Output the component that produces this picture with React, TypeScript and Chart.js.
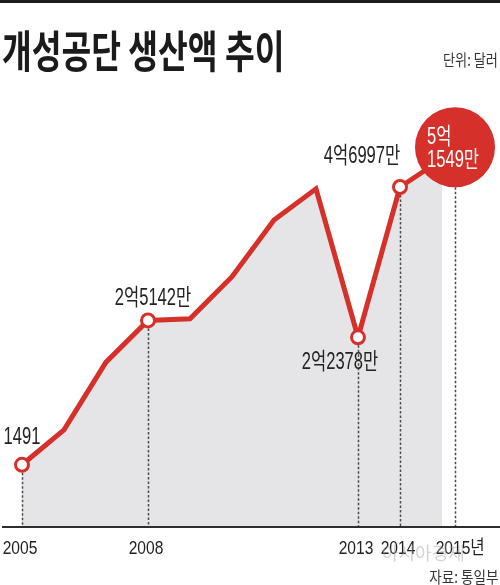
import React, { useEffect, useRef } from 'react';
import { Chart, registerables } from 'chart.js';

Chart.register(...registerables);

// ---- data ----
const years = [2005, 2006, 2007, 2008, 2009, 2010, 2011, 2012, 2013, 2014, 2015];
// 생산액 (만 달러)
const values = [1491, 7200, 18300, 25142, 25400, 32300, 41600, 46700, 22378, 46997, 51549];
const pointLabels = ['1491', '', '', '2억5142만', '', '', '', '', '2억2378만', '4억6997만', '5억\n1549만'];
const tickYears = [2005, 2008, 2013, 2014, 2015];
const tickLabels = ['2005', '2008', '2013', '2014', '2015년'];

// ---- styles ----
const RED = '#d6302a';
const AREA = '#e5e5e7';
const TEXT = '#222222';
const NUM_FONT = '"Liberation Sans", "Noto Sans CJK KR", sans-serif';
const KR_FONT = '"Noto Sans CJK KR", "Noto Sans", sans-serif';
const LABEL_OFFSETS: Record<number, [number, number]> = {
  0: [0, -27],
  3: [5, -22],
  8: [-18, 25],
  9: [-38, -30],
};
const CALLOUT_DX = 13;
const CALLOUT_DY = -12;
const CALLOUT_R = 40;
const LABEL_SX = 0.72;
const TICK_SX = 0.82;

function drawScaled(ctx: CanvasRenderingContext2D, text: string, x: number, y: number, align: CanvasTextAlign, sx: number) {
  ctx.save();
  ctx.translate(x, y);
  ctx.scale(sx, 1);
  ctx.textAlign = align;
  ctx.fillText(text, 0, 0);
  ctx.restore();
}

const overlayPlugin = {
  id: 'overlay',
  afterDatasetsDraw(chart: any) {
    const ctx: CanvasRenderingContext2D = chart.ctx;
    const meta = chart.getDatasetMeta(0);
    const area = chart.chartArea;
    const base = area.bottom;
    const last = values.length - 1;
    const lp = meta.data[last];
    const cx = lp.x + CALLOUT_DX;
    const cy = lp.y + CALLOUT_DY;

    // dashed drop lines
    ctx.save();
    ctx.strokeStyle = '#4a4a4a';
    ctx.lineWidth = 1.5;
    ctx.setLineDash([2.5, 2]);
    pointLabels.forEach((lab, i) => {
      if (!lab) return;
      const p = meta.data[i];
      let x = p.x;
      let y0 = p.y + 8;
      if (i === last) {
        x = cx;
        y0 = cy + CALLOUT_R;
      }
      ctx.beginPath();
      ctx.moveTo(Math.round(x) + 0.5, y0);
      ctx.lineTo(Math.round(x) + 0.5, base);
      ctx.stroke();
    });
    ctx.restore();

    // baseline
    ctx.save();
    ctx.fillStyle = '#2e2e2e';
    ctx.fillRect(2, base - 1, 498, 2);
    ctx.restore();

    // callout circle
    ctx.save();
    ctx.fillStyle = RED;
    ctx.beginPath();
    ctx.arc(cx, cy, CALLOUT_R, 0, Math.PI * 2);
    ctx.fill();
    ctx.fillStyle = '#ffffff';
    ctx.font = `23px ${NUM_FONT}`;
    ctx.textBaseline = 'middle';
    const lines = pointLabels[last].split('\n');
    drawScaled(ctx, lines[0], cx - 28, cy - 10, 'left', LABEL_SX);
    drawScaled(ctx, lines[1], cx - 28, cy + 13, 'left', LABEL_SX);
    ctx.restore();

    // point labels
    ctx.save();
    ctx.fillStyle = TEXT;
    ctx.font = `23px ${NUM_FONT}`;
    ctx.textBaseline = 'middle';
    pointLabels.forEach((lab, i) => {
      if (!lab || i === last) return;
      const p = meta.data[i];
      const off = LABEL_OFFSETS[i] || [0, -25];
      drawScaled(ctx, lab, p.x + off[0], p.y + off[1], 'center', LABEL_SX);
    });
    ctx.restore();

    // x tick labels
    ctx.save();
    ctx.fillStyle = TEXT;
    ctx.font = `19px ${NUM_FONT}`;
    ctx.textBaseline = 'middle';
    const xs = chart.scales.x;
    tickYears.forEach((yr, i) => {
      let x = xs.getPixelForValue(yr);
      if (i === tickYears.length - 1) x = cx;
      const lab = tickLabels[i];
      const w = ctx.measureText(lab.slice(0, 4)).width * TICK_SX;
      drawScaled(ctx, lab, x - w / 2 - 2, 549, 'left', TICK_SX);
    });
    ctx.restore();
  },
};

export default function App() {
  const ref = useRef<HTMLCanvasElement | null>(null);

  useEffect(() => {
    document.body.style.margin = '0';
    const canvas = ref.current;
    if (!canvas) return;
    const pxPerYear = 42;
    const xMin = years[0] - 22 / pxPerYear;
    const xMax = xMin + 500 / pxPerYear;
    const chart = new Chart(canvas, {
      type: 'line',
      data: {
        datasets: [
          {
            data: years.map((y, i) => ({ x: y, y: values[i] })),
            borderColor: RED,
            borderWidth: 5,
            borderJoinStyle: 'miter',
            backgroundColor: AREA,
            fill: 'start',
            tension: 0,
            pointRadius: pointLabels.map((l, i) => (l && i !== values.length - 1 ? 6.5 : 0)),
            pointBorderWidth: 3,
            pointBackgroundColor: '#ffffff',
            pointBorderColor: RED,
            clip: false,
          } as any,
        ],
      },
      options: {
        responsive: false,
        devicePixelRatio: 1,
        animation: false,
        layout: { autoPadding: false, padding: { top: 100, bottom: 58, left: 0, right: 0 } },
        scales: {
          x: { type: 'linear', display: false, min: xMin, max: xMax },
          y: { display: false, min: -8700, max: 61250 },
        },
        plugins: {
          legend: { display: false },
          tooltip: { enabled: false },
        },
      },
      plugins: [overlayPlugin],
    });
    return () => chart.destroy();
  }, []);

  return (
    <div style={{ position: 'relative', width: 500, height: 585, background: '#fff', overflow: 'hidden' }}>
      <canvas ref={ref} width={500} height={585} style={{ position: 'absolute', left: 0, top: 0, width: 500, height: 585 }} />
      <div style={{ position: 'absolute', left: 0, top: 0, width: 500, height: 3, background: '#1d1d1d' }} />
      <div
        style={{
          position: 'absolute', left: 2, top: 27, fontFamily: KR_FONT, fontWeight: 700, fontSize: 44,
          lineHeight: 1, whiteSpace: 'nowrap', color: '#1b1b1b', transform: 'scaleX(0.735)', transformOrigin: 'left top',
        }}
      >
        개성공단 생산액 추이
      </div>
      <div
        style={{
          position: 'absolute', right: 2, top: 51, fontFamily: KR_FONT, fontSize: 16, lineHeight: 1,
          whiteSpace: 'nowrap', color: '#333', transform: 'scaleX(0.82)', transformOrigin: 'right top',
        }}
      >
        단위: 달러
      </div>
      <div
        style={{
          position: 'absolute', left: 382, top: 543, fontFamily: KR_FONT, fontSize: 18, lineHeight: 1,
          whiteSpace: 'nowrap', color: 'rgba(160,160,160,0.45)',
        }}
      >
        아시아경제
      </div>
      <div
        style={{
          position: 'absolute', right: 1, top: 568, fontFamily: KR_FONT, fontSize: 16, lineHeight: 1,
          whiteSpace: 'nowrap', color: '#333', transform: 'scaleX(0.85)', transformOrigin: 'right top',
        }}
      >
        자료: 통일부
      </div>
    </div>
  );
}
